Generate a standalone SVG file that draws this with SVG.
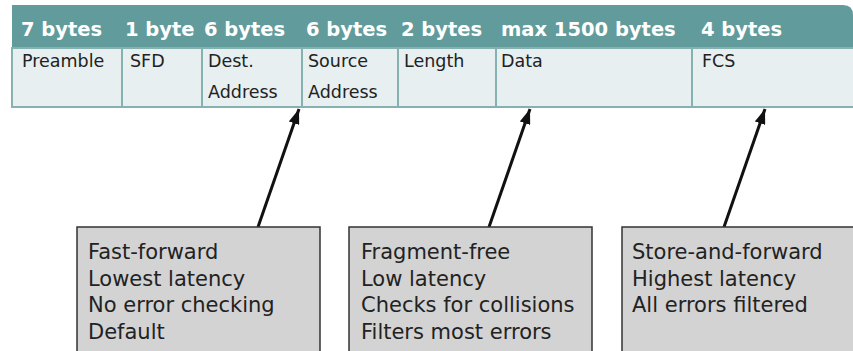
<svg xmlns="http://www.w3.org/2000/svg" width="853" height="351" viewBox="0 0 853 351">
<style>
.hd{font-family:"DejaVu Sans",sans-serif;font-weight:bold;font-size:19.5px;fill:#ffffff}
.cl{font-family:"DejaVu Sans",sans-serif;font-size:17.5px;fill:#222222}
.bx{fill:#d3d3d3;stroke:#333333;stroke-width:1.5}
.bt{font-family:"DejaVu Sans",sans-serif;font-size:21px;fill:#222222}
.cell{fill:#e7eff0;stroke:#86b1b1;stroke-width:2}
.ar{stroke:#111111;stroke-width:3;fill:none;marker-end:url(#ah)}
</style>
<defs>
<marker id="ah" markerWidth="5" markerHeight="3.6" refX="5" refY="1.8" orient="auto" markerUnits="strokeWidth">
<path d="M0,0 L5,1.8 L0,3.6 Z" fill="#111111"/>
</marker>
</defs>
<rect width="853" height="351" fill="#ffffff"/>
<g id="frame">
<path d="M12,5 H843 Q853,5 853,15 V48 H12 Z" fill="#629b9b"/>
<g id="header-labels">
<text class="hd" x="21" y="36">7 bytes</text>
<text class="hd" x="125" y="36">1 byte</text>
<text class="hd" x="204" y="36">6 bytes</text>
<text class="hd" x="306" y="36">6 bytes</text>
<text class="hd" x="401" y="36">2 bytes</text>
<text class="hd" x="501" y="36">max 1500 bytes</text>
<text class="hd" x="701" y="36">4 bytes</text>
</g>
</g>
<g id="cell-preamble"><rect class="cell" x="12" y="48" width="110" height="59"/><text class="cl" x="22" y="67">Preamble</text></g>
<g id="cell-sfd"><rect class="cell" x="122" y="48" width="80" height="59"/><text class="cl" x="130" y="67">SFD</text></g>
<g id="cell-dest"><rect class="cell" x="202" y="48" width="100" height="59"/><text class="cl" x="208" y="67">Dest.</text><text class="cl" x="208" y="98">Address</text></g>
<g id="cell-source"><rect class="cell" x="302" y="48" width="96" height="59"/><text class="cl" x="308" y="67">Source</text><text class="cl" x="308" y="98">Address</text></g>
<g id="cell-length"><rect class="cell" x="398" y="48" width="98" height="59"/><text class="cl" x="404" y="67">Length</text></g>
<g id="cell-data"><rect class="cell" x="496" y="48" width="196" height="59"/><text class="cl" x="501" y="67">Data</text></g>
<g id="cell-fcs"><rect class="cell" x="692" y="48" width="162" height="59"/><text class="cl" x="702" y="67">FCS</text></g>
<g id="connectors">
<line class="ar" x1="258" y1="227" x2="299" y2="109"/>
<line class="ar" x1="489" y1="227" x2="530" y2="109"/>
<line class="ar" x1="724" y1="227" x2="765" y2="109"/>
</g>
<g id="box-fast-forward">
<rect class="bx" x="77" y="227" width="243" height="130"/>
<text class="bt" x="88" y="259">Fast-forward</text>
<text class="bt" x="88" y="285.5">Lowest latency</text>
<text class="bt" x="88" y="312">No error checking</text>
<text class="bt" x="88" y="338.5">Default</text>
</g>
<g id="box-fragment-free">
<rect class="bx" x="349" y="227" width="243" height="130"/>
<text class="bt" x="361" y="259">Fragment-free</text>
<text class="bt" x="361" y="285.5">Low latency</text>
<text class="bt" x="361" y="312">Checks for collisions</text>
<text class="bt" x="361" y="338.5">Filters most errors</text>
</g>
<g id="box-store-and-forward">
<rect class="bx" x="622" y="227" width="240" height="130"/>
<text class="bt" x="632" y="259">Store-and-forward</text>
<text class="bt" x="632" y="285.5">Highest latency</text>
<text class="bt" x="632" y="312">All errors filtered</text>
</g>
</svg>
